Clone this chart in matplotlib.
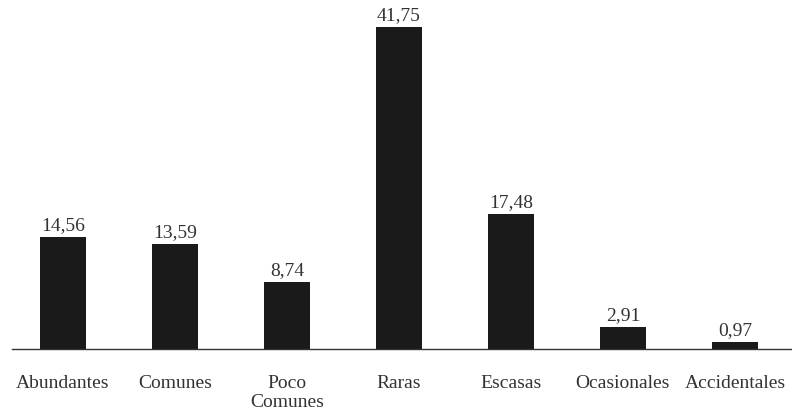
import matplotlib
matplotlib.use("Agg")
import matplotlib.pyplot as plt

categories = ["Abundantes", "Comunes", "Poco\nComunes", "Raras", "Escasas",
              "Ocasionales", "Accidentales"]
values = [14.56, 13.59, 8.74, 41.75, 17.48, 2.91, 0.97]
value_labels = ["14,56", "13,59", "8,74", "41,75", "17,48", "2,91", "0,97"]

plt.rcParams["font.family"] = ["Liberation Serif", "DejaVu Serif"]

fig = plt.figure(figsize=(7.92, 4.19), dpi=100)
ax = fig.add_axes([0.015, 0.167, 0.985, 0.833])

x = list(range(len(categories)))
bars = ax.bar(x, values, width=0.41, color="#1a1a1a", zorder=2)

for rect, lab in zip(bars, value_labels):
    ax.annotate(lab, (rect.get_x() + rect.get_width() / 2, rect.get_height()),
                xytext=(0, 2), textcoords="offset points",
                ha="center", va="bottom", fontsize=14, color="#333333")

ax.set_xlim(-0.455, 6.51)
ax.set_ylim(0, 45.3)
ax.set_xticks(x)
ax.set_xticklabels(categories, fontsize=14, color="#333333", linespacing=1.15)
ax.tick_params(axis="x", length=0, pad=19)
ax.set_yticks([])
for side in ("top", "right", "left"):
    ax.spines[side].set_visible(False)
ax.spines["bottom"].set_color("#333333")
ax.spines["bottom"].set_linewidth(1.0)

fig.savefig("out.png", dpi=100)
